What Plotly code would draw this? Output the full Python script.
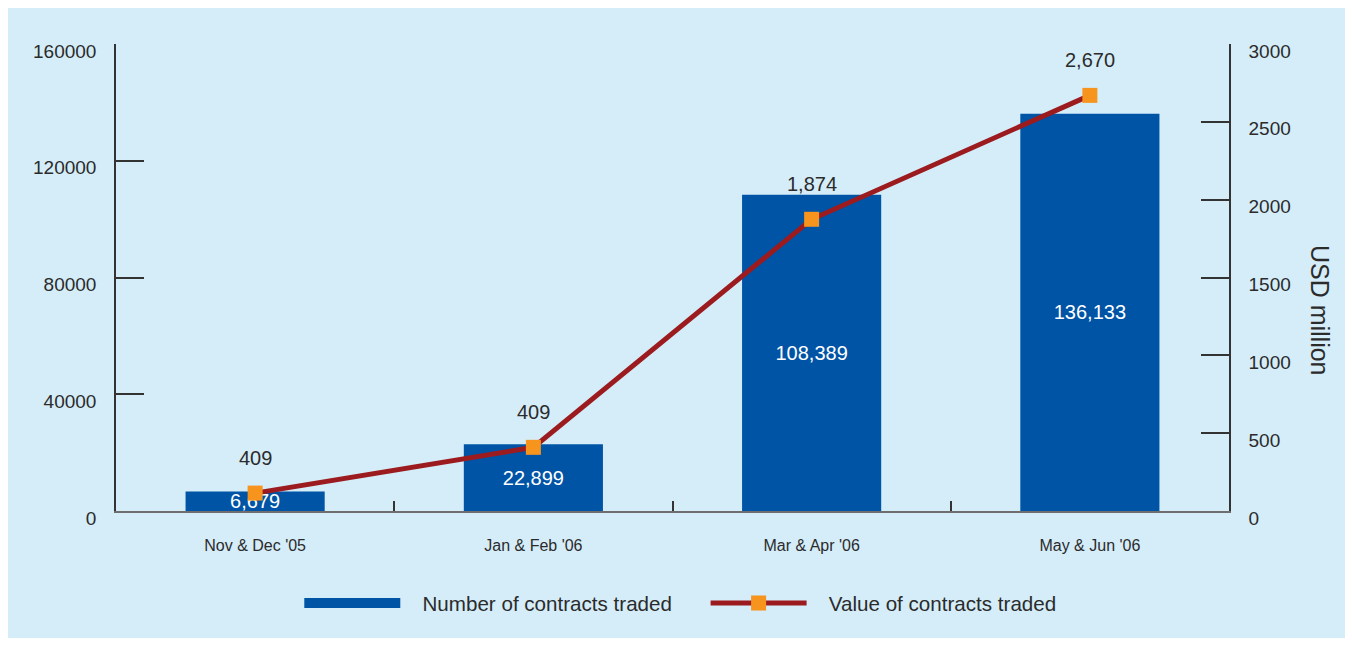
import plotly.graph_objects as go

# Data
periods = ["Nov & Dec '05", "Jan & Feb '06", "Mar & Apr '06", "May & Jun '06"]
contracts_traded = [6679, 22899, 108389, 136133]
contracts_labels = ["6,679", "22,899", "108,389", "136,133"]
value_traded = [115, 409, 1874, 2670]
value_labels = ["409", "409", "1,874", "2,670"]

left_ticks = [0, 40000, 80000, 120000, 160000]
right_ticks = [0, 500, 1000, 1500, 2000, 2500, 3000]

BG = "#D5EDF9"
BLUE = "#0054A6"
RED = "#9B1B1F"
ORANGE = "#F7941D"
TEXT = "#2B2B2B"
FONT = "Liberation Sans, Arial, sans-serif"
NB = "&nbsp;"

fig = go.Figure()

# 1. Bars: number of contracts
fig.add_trace(go.Bar(
    x=periods, y=contracts_traded,
    name="Number of contracts traded",
    marker=dict(color=BLUE, line=dict(width=0)),
    text=contracts_labels,
    textposition="inside",
    insidetextanchor="middle",
    textfont=dict(color="white", size=20, family=FONT),
    showlegend=False,
    yaxis="y",
))

# legend entry for the bars (wide blue swatch)
fig.add_trace(go.Scatter(
    x=[None], y=[None], mode="lines",
    name=NB * 3 + "Number of contracts traded" + NB * 5,
    line=dict(color=BLUE, width=14),
    showlegend=True,
))

# 2. Line: value of contracts
fig.add_trace(go.Scatter(
    x=periods, y=value_traded,
    name=NB * 3 + "Value of contracts traded",
    mode="lines+markers",
    line=dict(color=RED, width=5),
    marker=dict(symbol="square", size=15, color=ORANGE, line=dict(width=0)),
    yaxis="y2",
))

# 3. Value labels above the markers
for p, v, lab in zip(periods, value_traded, value_labels):
    fig.add_annotation(x=p, y=v, xref="x", yref="y2", text=lab, showarrow=False,
                       yshift=35, font=dict(size=20, color=TEXT, family=FONT))

# 4. Right axis title
fig.add_annotation(x=1.082, y=0.43, xref="paper", yref="paper", text="USD million",
                   textangle=90, showarrow=False, xanchor="center", yanchor="middle",
                   font=dict(size=25, color=TEXT, family=FONT))

fig.update_layout(
    width=1337, height=630,
    margin=dict(l=108, r=116, t=36, b=127),
    paper_bgcolor=BG,
    plot_bgcolor=BG,
    bargap=0.5,
    font=dict(family=FONT, size=19, color=TEXT),
    showlegend=True,
    legend=dict(orientation="h", x=0.507, xanchor="center", y=-0.197, yanchor="middle",
                font=dict(size=20.6, color=TEXT), bgcolor="rgba(0,0,0,0)",
                itemwidth=96, traceorder="normal"),
    uniformtext=dict(minsize=20, mode="show"),
    xaxis=dict(
        showline=True, linecolor="#6E6E6E", linewidth=2,
        ticks="inside", ticklen=10, tickcolor="#333333", tickwidth=1.5,
        tickson="boundaries", ticklabelstandoff=19,
        tickfont=dict(size=16, color=TEXT),
        showgrid=False, zeroline=False,
    ),
    yaxis=dict(
        range=[0, 160000], tickvals=left_ticks, tickformat="d",
        showline=True, linecolor="#333333", linewidth=1.5,
        ticks="inside", ticklen=28, tickcolor="#333333", tickwidth=1.5,
        ticklabelstandoff=14, ticklabelshift=7,
        tickfont=dict(size=19, color=TEXT),
        showgrid=False, zeroline=False,
    ),
    yaxis2=dict(
        range=[0, 3000], tickvals=right_ticks, tickformat="d",
        overlaying="y", side="right",
        showline=True, linecolor="#333333", linewidth=1.5,
        ticks="inside", ticklen=28, tickcolor="#333333", tickwidth=1.5,
        ticklabelstandoff=14, ticklabelshift=7,
        tickfont=dict(size=19, color=TEXT),
        showgrid=False, zeroline=False,
    ),
)

fig.write_html("out.html")
